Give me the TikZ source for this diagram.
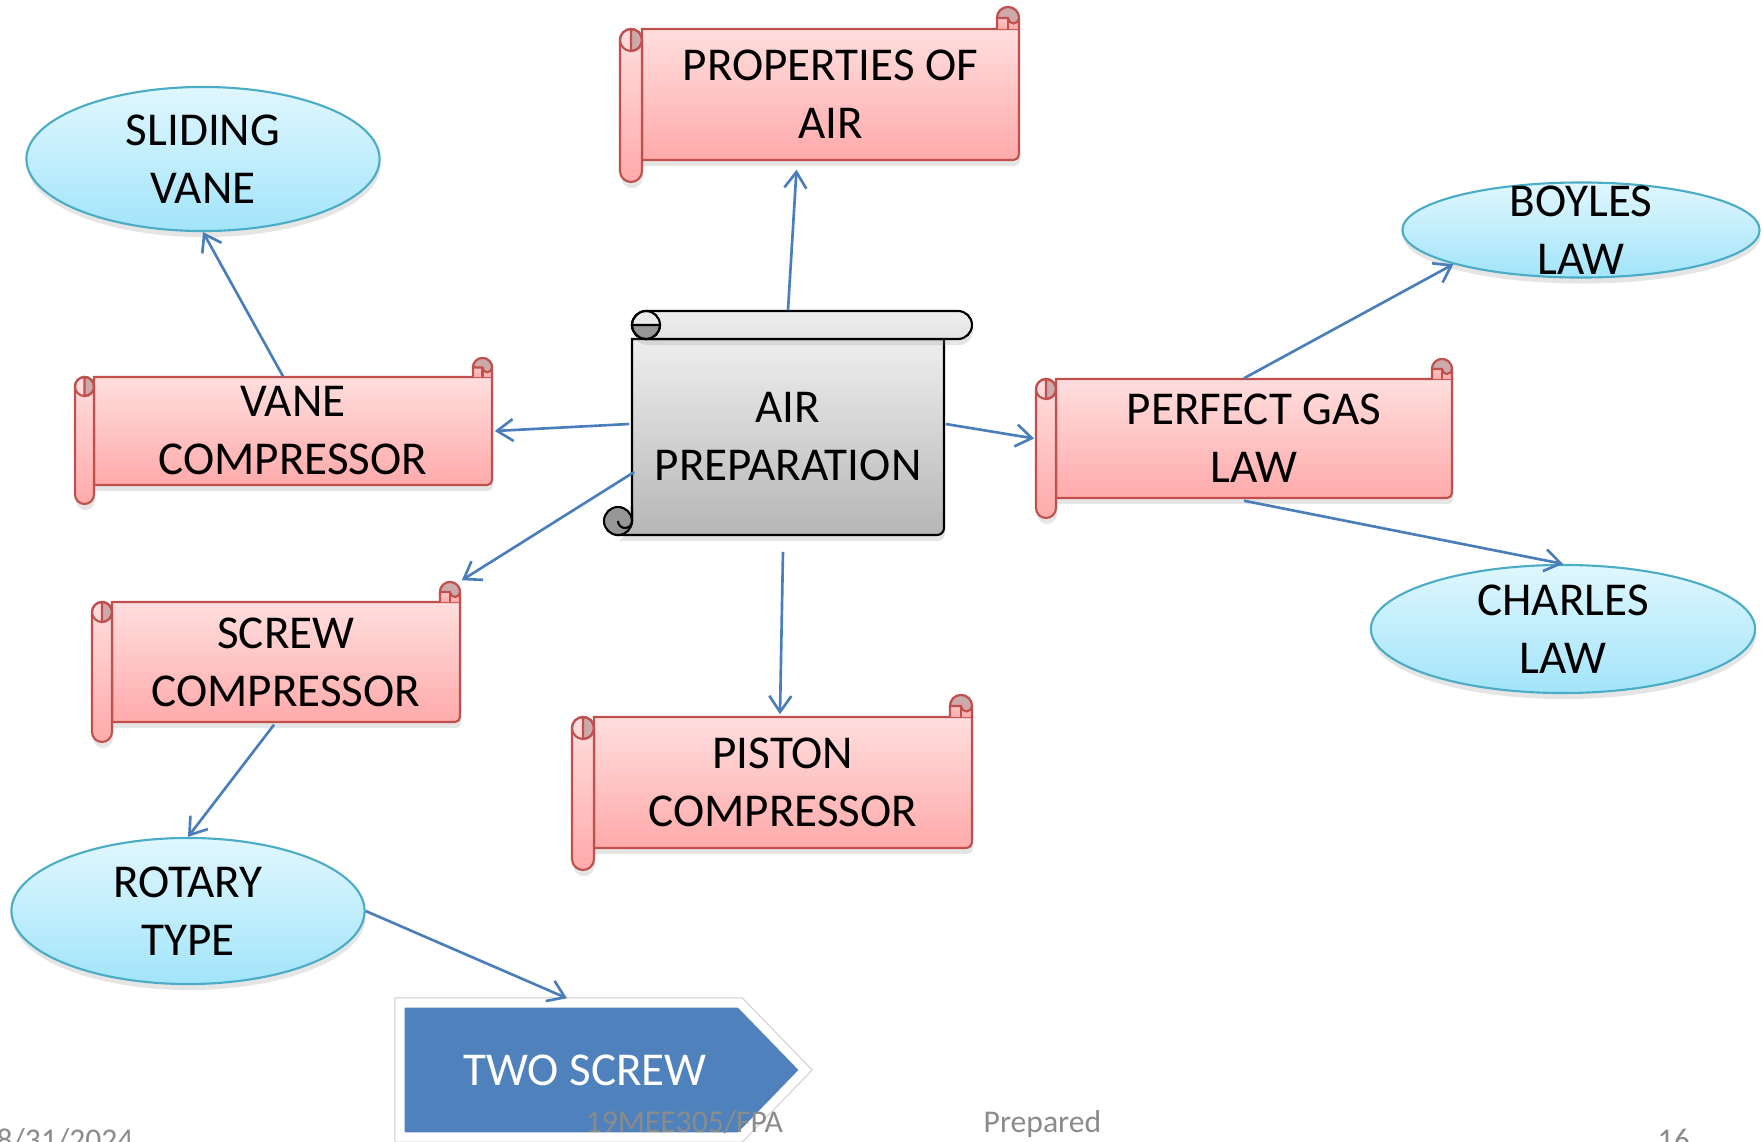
\documentclass[tikz,border=0pt]{standalone}
\usepackage{fontspec}
\setmainfont{Carlito}
\usetikzlibrary{shapes.geometric,arrows.meta,calc,shadows}

\definecolor{scrollline}{RGB}{192,80,77}
\definecolor{scrolltop}{RGB}{255,222,222}
\definecolor{scrollbot}{RGB}{255,170,170}
\definecolor{scrollcurl}{RGB}{204,170,170}
\definecolor{greytop}{RGB}{238,238,238}
\definecolor{greybot}{RGB}{182,182,182}
\definecolor{curlgrey}{RGB}{150,150,150}
\definecolor{ovalline}{RGB}{75,172,198}
\definecolor{ovaltop}{RGB}{224,247,254}
\definecolor{ovalbot}{RGB}{162,228,250}
\definecolor{linkblue}{RGB}{74,126,187}
\definecolor{chevblue}{RGB}{79,129,189}
\definecolor{footgrey}{RGB}{139,139,139}

\tikzset{
 softshadow/.style={drop shadow={opacity=0.2,shadow xshift=0.01cm,shadow yshift=-0.06cm}},
 redpart/.style={draw=scrollline,line width=0.6pt,top color=scrolltop,bottom color=scrollbot},
 redcurl/.style={draw=scrollline,line width=0.6pt,fill=scrollcurl},
 greypart/.style={draw=black,line width=0.6pt,top color=greytop,bottom color=greybot},
 greycurl/.style={draw=black,line width=0.6pt,fill=curlgrey},
 bigtext/.style={inner sep=0pt,align=center,font=\fontsize{13.4}{16.5}\selectfont},
 oval/.style={ellipse,bigtext,inner sep=-0.25cm,draw=ovalline,line width=0.6pt,top color=ovaltop,bottom color=ovalbot,softshadow},
 link/.style={draw=linkblue,line width=0.75pt,-{Straight Barb[length=1.6mm,width=2.2mm]}},
 foot/.style={inner sep=0pt,anchor=base west,text=footgrey,font=\fontsize{9}{11}\selectfont}
}

% horizontal scroll: name, body left, top, right, bottom, roll, text
\newcommand\hscroll[7]{%
 \pgfmathsetmacro\rh{#6/2}%
 \pgfmathsetmacro\rq{#6/4}%
 \pgfmathsetmacro\bw{(#4-#2)/100}%
 \pgfmathsetmacro\bh{(#5-#3)/100}%
 \path[redpart,softshadow] (#2,#3) -- (#4,#3) -- (#4,#5-\rq) arc[start angle=0,end angle=90,radius=\rq] -- (#2,#5) -- cycle;
 \path[redpart,softshadow] (#2-#6,#3+\rh) arc[start angle=180,end angle=360,radius=\rh] -- (#2,#5+\rh) arc[start angle=0,end angle=180,radius=\rh] -- cycle;
 \path[redcurl] (#2-\rh,#3) arc[start angle=270,end angle=450,radius=\rh] -- cycle;
 \draw[scrollline,line width=0.6pt] (#2-\rh,#3+\rh) circle[radius=\rh];
 \path[redpart] (#4-#6,#3) -- (#4-#6,#3-\rh) arc[start angle=180,end angle=360,radius=\rh] -- (#4,#3);
 \path[redcurl] (#4-#6,#3-\rh) arc[start angle=180,end angle=360,radius=\rh] arc[start angle=0,end angle=180,radius=\rq] -- cycle;
 \draw[scrollline,line width=0.6pt] (#4-\rh,#3-\rh) -- (#4-\rh,#3);
 \node[bigtext,minimum width=\bw cm,minimum height=\bh cm] (#1) at ({(#2+#4)/2},{(#3+#5)/2}) {#7};
}

% vertical scroll: name, body left, top, right, bottom, roll, text
\newcommand\vscroll[7]{%
 \pgfmathsetmacro\rh{#6/2}%
 \pgfmathsetmacro\rq{#6/4}%
 \pgfmathsetmacro\rr{#6/200}%
 \pgfmathsetmacro\bw{(#4-#2)/100}%
 \pgfmathsetmacro\bh{(#5-#3)/100}%
 \path[greypart,softshadow] (#2,#3) -- (#4,#3) -- (#4,#5-\rq) arc[start angle=0,end angle=90,radius=\rq] -- (#2-\rh,#5) -- (#2,#5-\rh) -- cycle;
 \path[greypart,bottom color=greytop!80!greybot,rounded corners=\rr cm,softshadow] (#2,#3-#6) rectangle (#4+#6,#3);
 \path[greycurl] (#2,#3-\rh) arc[start angle=180,end angle=0,radius=\rh] -- cycle;
 \draw[line width=0.6pt] (#2+\rh,#3-\rh) circle[radius=\rh];
 \path[greycurl] (#2-\rh,#5-\rh) circle[radius=\rh];
 \draw[line width=0.6pt] (#2,#5-#6) -- (#2,#5-\rh) arc[start angle=0,end angle=180,radius=\rq];
 \node[bigtext,minimum width=\bw cm,minimum height=\bh cm] (#1) at ({(#2+#4)/2},{(#3+#5)/2}) {#7};
}

\begin{document}
\begin{tikzpicture}[x=0.01cm,y=-0.01cm]
 \useasboundingbox (0,0) rectangle (1762,1142);
 \fill[white] (0,0) rectangle (1762,1142);

 % scrolls
 \vscroll{air}{632}{339}{944}{535}{28}{AIR\\PREPARATION}
 \hscroll{props}{642}{29}{1019}{160}{22}{PROPERTIES OF\\AIR}
 \hscroll{vane}{94}{377}{492}{485}{19}{VANE\\COMPRESSOR}
 \hscroll{screw}{112}{602}{460}{722}{20}{SCREW\\COMPRESSOR}
 \hscroll{piston}{594}{717}{972}{848}{22}{PISTON\\COMPRESSOR}
 \hscroll{gas}{1056}{379}{1452}{498}{20}{PERFECT GAS\\LAW}

 % ovals
 \node[oval,minimum width=3.53cm,minimum height=1.44cm] (sliding) at (203,159) {SLIDING\\VANE};
 \node[oval,minimum width=3.53cm,minimum height=1.46cm] (rotary) at (188,911) {ROTARY\\TYPE};
 \node[oval,minimum width=3.57cm,minimum height=0.95cm] (boyles) at (1581,230) {BOYLES\\LAW};
 \node[oval,minimum width=3.84cm,minimum height=1.28cm] (charles) at (1563,629) {CHARLES\\LAW};

 % chevron
 \path[draw=black!20,line width=3.2pt] (400,1003) -- (740,1003) -- (805,1070) -- (740,1137) -- (400,1137) -- cycle;
 \path[fill=chevblue,draw=white,line width=2.6pt] (400,1003) -- (740,1003) -- (805,1070) -- (740,1137) -- (400,1137) -- cycle;
 \node[bigtext,text=white,minimum width=2.8cm,minimum height=1.34cm] (twoscrew) at (585,1070) {TWO SCREW};

 % footer
 \node[foot] (date) at (-4,1150) {8/31/2024};
 \node[foot] (code) at (585,1132) {19MEE305/FPA};
 \node[foot] (prep) at (983,1132) {Prepared};
 \node[foot] (page) at (1657,1150) {16};

 % connectors
 \draw[link] ($(air.north)+(0,-28)$) -- ($(props.south)+(-34,9)$);
 \draw[link] ($(air.west)+(-2,-13)$) -- ($(vane.east)+(2,0)$);
 \draw[link] ($(vane.north)+(-10,0)$) -- (sliding.south);
 \draw[link] ($(air.west)+(3,35)$) -- ($(screw.north east)+(1,-21)$);
 \draw[link] ($(screw.south)+(-12,2)$) -- (rotary.north);
 \draw[link] (rotary.east) -- ($(twoscrew.north)+(-18,-4)$);
 \draw[link] ($(air.south)+(-5,16)$) -- ($(piston.north)+(-3,-2)$);
 \draw[link] ($(air.east)+(1,-13)$) -- ($(gas.west)+(-21,0)$);
 \draw[link] ($(gas.north)+(-10,0)$) -- (boyles.195);
 \draw[link] ($(gas.south)+(-10,2)$) -- (charles.north);
\end{tikzpicture}
\end{document}
